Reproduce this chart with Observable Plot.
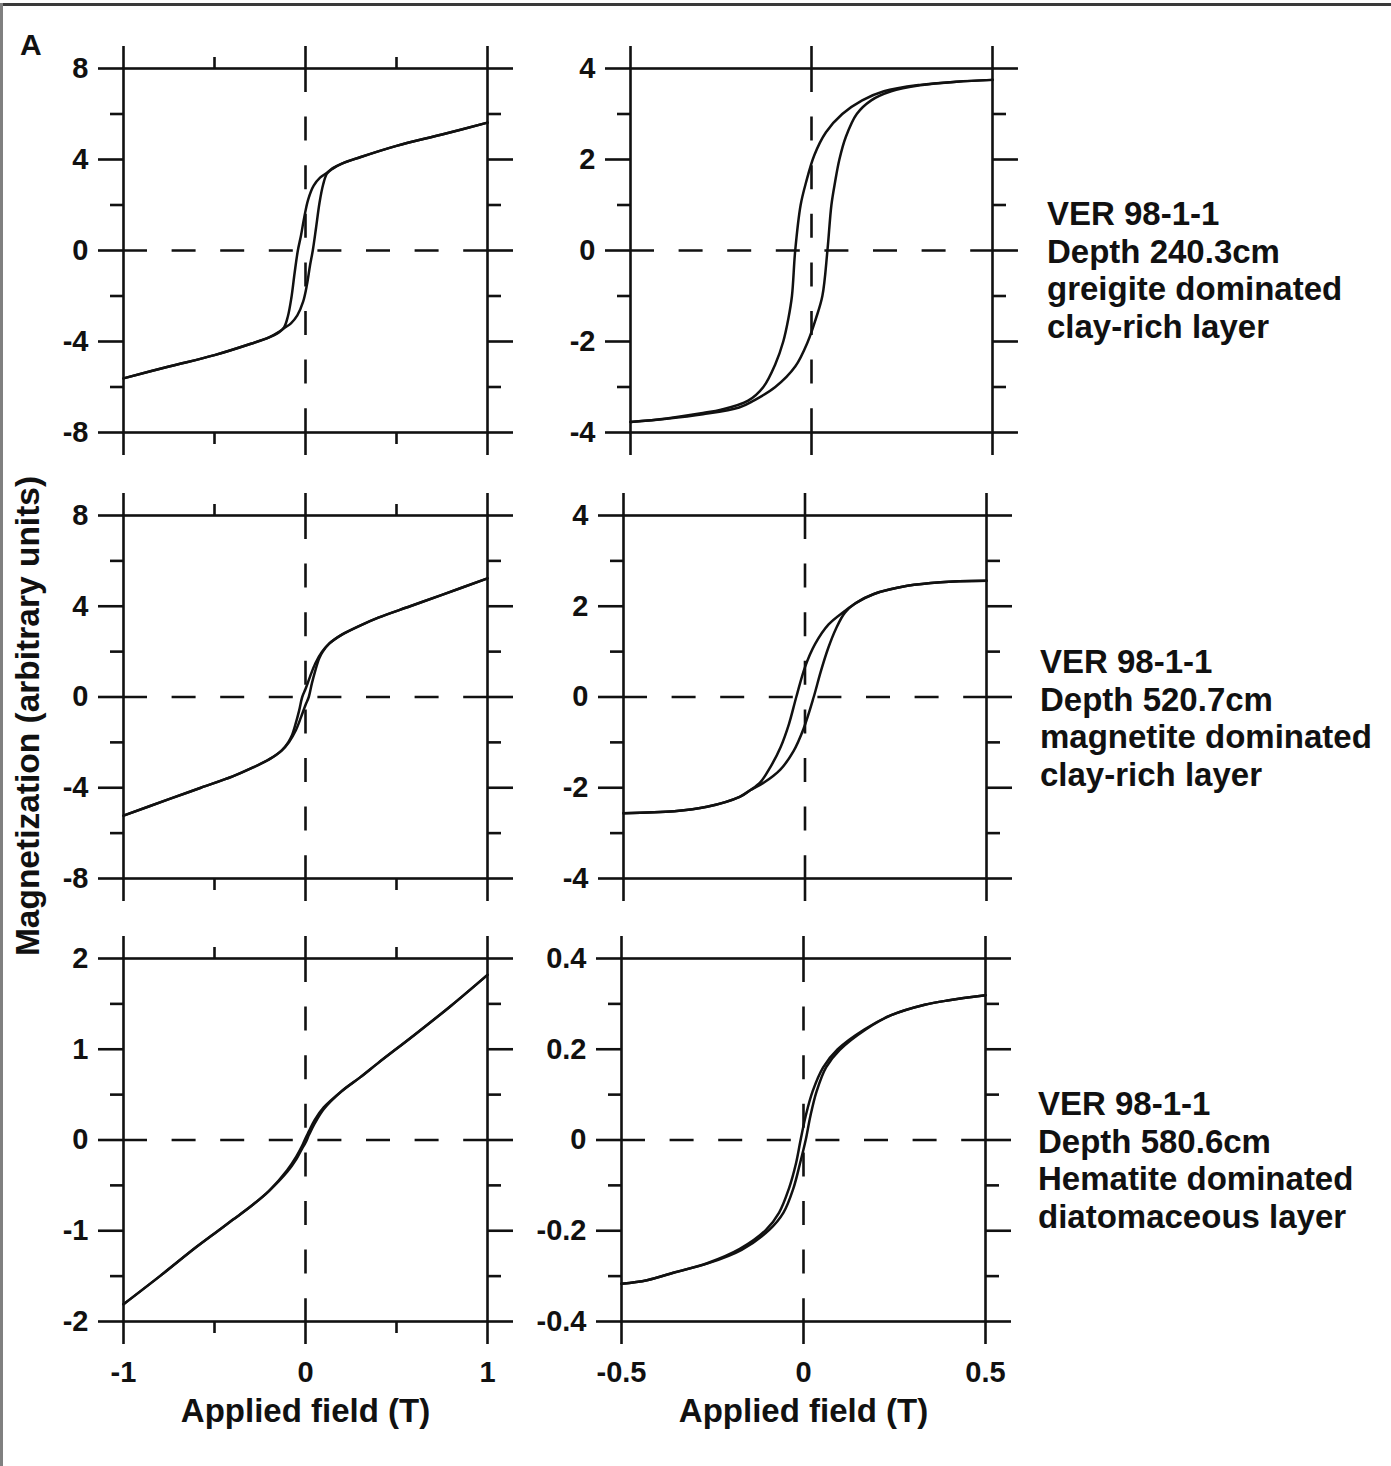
<!DOCTYPE html>
<html><head><meta charset="utf-8">
<script src="https://cdn.jsdelivr.net/npm/d3@7"></script>
<script src="https://cdn.jsdelivr.net/npm/@observablehq/plot@0.6"></script>
<style>
body{margin:0;background:#fff;}
#page{position:relative;width:1391px;height:1466px;background:#fff;overflow:hidden;font-family:"Liberation Sans",Arial,sans-serif;font-weight:bold;color:#111;}
.border-top{position:absolute;left:0;top:3px;width:1391px;height:3px;background:#3a3a3a;}
.border-left{position:absolute;left:0;top:3px;width:3px;height:1463px;background:#808080;}
.note{position:absolute;font-size:33px;line-height:37.6px;white-space:nowrap;}
.ylab{position:absolute;font-size:33.5px;white-space:nowrap;transform:translate(-50%,-50%) rotate(-90deg);}
</style></head><body><div id="page"><div class="border-top"></div><div class="border-left"></div></div>
<script>
// ---------- data ----------
const panelLetter = "A";
const xTitle = "Applied field (T)";
const yTitle = "Magnetization (arbitrary units)";
const notes = [
  ["VER 98-1-1", "Depth 240.3cm", "greigite dominated", "clay-rich layer"],
  ["VER 98-1-1", "Depth 520.7cm", "magnetite dominated", "clay-rich layer"],
  ["VER 98-1-1", "Depth 580.6cm", "Hematite dominated", "diatomaceous layer"]
];

// tick values
const xWideMajor = [-1, 0, 1];
const xWideMinor = [-0.5, 0.5];
const xNarrowMajor = [-0.5, 0, 0.5];
const xNarrowMinor = [];
const y8Major = [-8, -4, 0, 4, 8];
const y8Minor = [-6, -2, 2, 6];
const y4Major = [-4, -2, 0, 2, 4];
const y4Minor = [-3, -1, 1, 3];
const y2Major = [-2, -1, 0, 1, 2];
const y2Minor = [-1.5, -0.5, 0.5, 1.5];
const y04Major = [-0.4, -0.2, 0, 0.2, 0.4];
const y04Minor = [-0.3, -0.1, 0.1, 0.3];

// hysteresis branches: [field, magnetization]
// row 1 left: 240.3 cm, +-1 T
const p1Upper = [[1,5.62],[0.75,5.1],[0.5,4.6],[0.3,4.1],[0.2,3.82],[0.15,3.62],[0.118,3.42],[0.08,3.2],[0.045,2.85],[0.015,2.25],[-0.006,1.5],[-0.025,0.65],[-0.042,0],[-0.06,-1.0],[-0.078,-2.1],[-0.097,-2.9],[-0.118,-3.38],[-0.15,-3.6],[-0.2,-3.82],[-0.3,-4.1],[-0.5,-4.6],[-0.75,-5.1],[-1,-5.62]];
const p1Lower = [[-1,-5.62],[-0.75,-5.1],[-0.5,-4.6],[-0.3,-4.1],[-0.2,-3.82],[-0.15,-3.62],[-0.118,-3.42],[-0.08,-3.2],[-0.045,-2.85],[-0.013,-2.25],[0.008,-1.5],[0.025,-0.65],[0.04,0],[0.058,1.0],[0.077,2.1],[0.097,2.9],[0.118,3.38],[0.15,3.6],[0.2,3.82],[0.3,4.1],[0.5,4.6],[0.75,5.1],[1,5.62]];
// row 1 right: 240.3 cm, +-0.5 T
const p2Upper = [[0.5,3.75],[0.4,3.71],[0.3,3.64],[0.2,3.5],[0.14,3.3],[0.085,3.0],[0.04,2.6],[0.008,2.1],[-0.015,1.5],[-0.03,1.0],[-0.045,0],[-0.054,-1],[-0.064,-1.5],[-0.078,-2],[-0.1,-2.5],[-0.133,-3],[-0.175,-3.3],[-0.25,-3.5],[-0.3,-3.57],[-0.4,-3.69],[-0.5,-3.77]];
const p2Lower = [[-0.5,-3.77],[-0.4,-3.7],[-0.3,-3.6],[-0.2,-3.45],[-0.16,-3.3],[-0.1,-3.0],[-0.045,-2.55],[-0.01,-2.0],[0.012,-1.5],[0.03,-1.0],[0.044,0],[0.055,1],[0.065,1.5],[0.077,2],[0.095,2.5],[0.125,3],[0.165,3.3],[0.22,3.5],[0.3,3.63],[0.4,3.71],[0.5,3.75]];
// row 2 left: 520.7 cm, +-1 T
const p3Upper = [[1,5.23],[0.75,4.5],[0.575,4.0],[0.4,3.5],[0.3,3.15],[0.2,2.75],[0.13,2.35],[0.09,1.98],[0.055,1.5],[0.025,0.9],[0.0,0.35],[-0.018,0],[-0.035,-0.6],[-0.055,-1.2],[-0.075,-1.7],[-0.095,-2.0],[-0.13,-2.35],[-0.2,-2.75],[-0.3,-3.15],[-0.4,-3.5],[-0.575,-4.0],[-0.75,-4.5],[-1,-5.23]];
const p3Lower = [[-1,-5.23],[-0.75,-4.5],[-0.575,-4.0],[-0.4,-3.5],[-0.3,-3.15],[-0.2,-2.75],[-0.13,-2.35],[-0.09,-1.98],[-0.055,-1.5],[-0.025,-0.9],[0.0,-0.35],[0.018,0],[0.035,0.6],[0.055,1.2],[0.075,1.7],[0.095,2.0],[0.13,2.35],[0.2,2.75],[0.3,3.15],[0.4,3.5],[0.575,4.0],[0.75,4.5],[1,5.23]];
// row 2 right: 520.7 cm, +-0.5 T
const p4Upper = [[0.5,2.56],[0.374,2.53],[0.282,2.45],[0.19,2.27],[0.14,2.07],[0.107,1.88],[0.065,1.6],[0.028,1.17],[0.0,0.66],[-0.024,0],[-0.044,-0.59],[-0.067,-1.1],[-0.095,-1.54],[-0.122,-1.87],[-0.15,-2.05],[-0.18,-2.2],[-0.27,-2.42],[-0.36,-2.52],[-0.5,-2.56]];
const p4Lower = [[-0.5,-2.56],[-0.36,-2.52],[-0.27,-2.42],[-0.18,-2.2],[-0.15,-2.05],[-0.112,-1.88],[-0.068,-1.6],[-0.032,-1.2],[-0.004,-0.7],[0.024,0],[0.043,0.55],[0.064,1.08],[0.085,1.5],[0.11,1.86],[0.14,2.07],[0.19,2.27],[0.282,2.45],[0.374,2.53],[0.5,2.56]];
// row 3 left: 580.6 cm, +-1 T
const p5Upper = [[1,1.82],[0.8,1.48],[0.6,1.16],[0.4,0.85],[0.3,0.69],[0.2,0.54],[0.1,0.36],[0.05,0.22],[0.02,0.1],[0.0,0.02],[-0.02,-0.07],[-0.05,-0.18],[-0.1,-0.33],[-0.2,-0.56],[-0.3,-0.73],[-0.4,-0.88],[-0.5,-1.03],[-0.6,-1.18],[-0.8,-1.5],[-1,-1.81]];
const p5Lower = [[-1,-1.81],[-0.8,-1.5],[-0.6,-1.18],[-0.5,-1.03],[-0.4,-0.88],[-0.3,-0.73],[-0.2,-0.56],[-0.1,-0.35],[-0.05,-0.21],[-0.02,-0.1],[0.0,-0.03],[0.02,0.06],[0.05,0.18],[0.1,0.34],[0.2,0.54],[0.3,0.69],[0.4,0.85],[0.6,1.16],[0.8,1.48],[1,1.82]];
// row 3 right: 580.6 cm, +-0.5 T
const p6Upper = [[0.5,0.319],[0.4,0.308],[0.333,0.298],[0.241,0.275],[0.168,0.244],[0.094,0.2],[0.054,0.16],[0.025,0.107],[0.006,0.053],[-0.008,0],[-0.021,-0.053],[-0.04,-0.107],[-0.067,-0.16],[-0.103,-0.198],[-0.175,-0.24],[-0.263,-0.271],[-0.355,-0.292],[-0.43,-0.309],[-0.5,-0.317]];
const p6Lower = [[-0.5,-0.317],[-0.43,-0.309],[-0.355,-0.292],[-0.263,-0.272],[-0.17,-0.242],[-0.094,-0.198],[-0.055,-0.16],[-0.028,-0.107],[-0.01,-0.053],[0.006,0],[0.019,0.053],[0.036,0.107],[0.062,0.16],[0.099,0.198],[0.17,0.243],[0.241,0.275],[0.333,0.298],[0.4,0.308],[0.5,0.319]];

// ---------- layout ----------
const ink = "#111";
const font = "'Liberation Sans', Arial, sans-serif";
const page = document.getElementById("page");
const fmt = d => String(d);
const blank = () => "";

const panels = [
  {box:[123,487,68,432],  xd:[-1,1],     yd:[-8,8],     xM:xWideMajor,   xm:xWideMinor,   yM:y8Major,  ym:y8Minor,  up:p1Upper, lo:p1Lower, showX:false},
  {box:[630,992,68,432],  xd:[-0.5,0.5], yd:[-4,4],     xM:xNarrowMajor, xm:xNarrowMinor, yM:y4Major,  ym:y4Minor,  up:p2Upper, lo:p2Lower, showX:false},
  {box:[123,487,515,878], xd:[-1,1],     yd:[-8,8],     xM:xWideMajor,   xm:xWideMinor,   yM:y8Major,  ym:y8Minor,  up:p3Upper, lo:p3Lower, showX:false},
  {box:[623,986,515,878], xd:[-0.5,0.5], yd:[-4,4],     xM:xNarrowMajor, xm:xNarrowMinor, yM:y4Major,  ym:y4Minor,  up:p4Upper, lo:p4Lower, showX:false},
  {box:[123,487,958,1321],xd:[-1,1],     yd:[-2,2],     xM:xWideMajor,   xm:xWideMinor,   yM:y2Major,  ym:y2Minor,  up:p5Upper, lo:p5Lower, showX:true},
  {box:[621,985,958,1321],xd:[-0.5,0.5], yd:[-0.4,0.4], xM:xNarrowMajor, xm:xNarrowMinor, yM:y04Major, ym:y04Minor, up:p6Upper, lo:p6Lower, showX:true}
];

const mL = 108, mR = 32, mT = 36, mB = 120;
const axisStyle = {stroke: ink, strokeWidth: 2.6, label: null};
const tickFont = 29;

for (const p of panels) {
  const [l, r, t, b] = p.box;
  const marks = [
    Plot.ruleY([0], {stroke: ink, strokeWidth: 2.6, strokeDasharray: "24,24.6"}),
    Plot.ruleX([0], {stroke: ink, strokeWidth: 2.6, strokeDasharray: "24,24.6"}),
    Plot.axisY({...axisStyle, anchor: "left", ticks: p.yM, tickSize: 25, tickPadding: 10, tickFormat: fmt, fontSize: tickFont, fontWeight: "bold", fill: ink}),
    Plot.axisY({...axisStyle, anchor: "left", ticks: p.ym, tickSize: 13, tickFormat: blank}),
    Plot.axisY({...axisStyle, anchor: "right", ticks: p.yM, tickSize: 25, tickFormat: blank}),
    Plot.axisY({...axisStyle, anchor: "right", ticks: p.ym, tickSize: 13, tickFormat: blank}),
    Plot.axisX({...axisStyle, anchor: "top", ticks: p.xM, tickSize: 23, tickFormat: blank}),
    Plot.axisX({...axisStyle, anchor: "bottom", ticks: p.xM, tickSize: 23, tickPadding: 17,
      tickFormat: p.showX ? fmt : blank, fontSize: tickFont, fontWeight: "bold", fill: ink}),
    Plot.frame({stroke: ink, strokeWidth: 2.6}),
    Plot.line(p.up, {x: d => d[0], y: d => d[1], curve: "catmull-rom", stroke: ink, strokeWidth: 2.5}),
    Plot.line(p.lo, {x: d => d[0], y: d => d[1], curve: "catmull-rom", stroke: ink, strokeWidth: 2.5})
  ];
  if (p.xm.length) {
    marks.push(Plot.axisX({...axisStyle, anchor: "top", ticks: p.xm, tickSize: 12, tickFormat: blank}));
    marks.push(Plot.axisX({...axisStyle, anchor: "bottom", ticks: p.xm, tickSize: 12, tickFormat: blank}));
  }
  if (p.showX) {
    marks.push(Plot.text([xTitle], {text: d => d, frameAnchor: "bottom", dy: 100, fontSize: 33, fontWeight: "bold", fill: ink}));
  }
  const svg = Plot.plot({
    width: mL + (r - l) + mR,
    height: mT + (b - t) + mB,
    marginLeft: mL, marginRight: mR, marginTop: mT, marginBottom: mB,
    x: {domain: p.xd, label: null},
    y: {domain: p.yd, label: null},
    style: {background: "transparent", overflow: "visible", fontFamily: font, color: ink},
    marks
  });
  svg.style.position = "absolute";
  svg.style.left = (l - mL) + "px";
  svg.style.top = (t - mT) + "px";
  svg.style.maxWidth = "none";
  page.appendChild(svg);
}

// panel letter, y title, annotations
const letter = document.createElement("div");
letter.className = "note";
letter.style.left = "20px"; letter.style.top = "26px"; letter.style.fontSize = "30px";
letter.textContent = panelLetter;
page.appendChild(letter);

const ylab = document.createElement("div");
ylab.className = "ylab";
ylab.style.left = "28px"; ylab.style.top = "716px";
ylab.textContent = yTitle;
page.appendChild(ylab);

const notePos = [[1047, 195], [1040, 643], [1038, 1085]];
notes.forEach((lines, i) => {
  const d = document.createElement("div");
  d.className = "note";
  d.style.left = notePos[i][0] + "px";
  d.style.top = notePos[i][1] + "px";
  d.innerHTML = lines.join("<br>");
  page.appendChild(d);
});
</script></body></html>
